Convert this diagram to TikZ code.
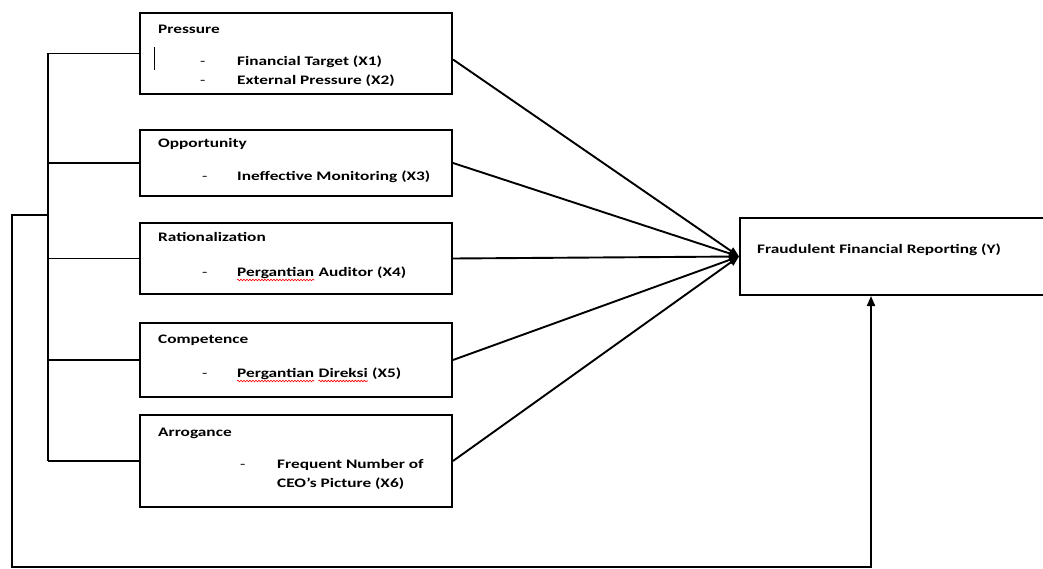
\documentclass[tikz,border=0pt]{standalone}
\usepackage{fontspec}
\setmainfont{Carlito}[FakeStretch=1.33]
\usetikzlibrary{positioning, arrows.meta, decorations.pathmorphing}
\tikzset{garis/.style={line width=1.9pt}}
\tikzset{panah/.style={garis,-{Triangle[length=10pt,width=8pt]}}}
\tikzset{kotak/.style={draw,line width=2pt,anchor=north west,inner sep=0pt,minimum width=312pt}}
\tikzset{judul/.style={anchor=base west,inner sep=0pt}}
\tikzset{salah/.style={red,line width=0.6pt,decorate,decoration={snake,amplitude=0.8pt,segment length=3pt}}}

\begin{document}
\begin{tikzpicture}[
                x = 1pt, y = -1pt,
                every node/.style={font=\fontsize{13}{15}\selectfont\bfseries}
            ]
                \useasboundingbox (0,0) rectangle (1043,569);
                \clip (0,0) rectangle (1043,569);

                % kotak variabel
                \node[kotak, minimum height=81pt] (1) at (139,12) {};
                \node[kotak, minimum height=66pt] (2) at (139,129) {};
                \node[kotak, minimum height=71pt] (3) at (139,222) {};
                \node[kotak, minimum height=74pt] (4) at (139,322) {};
                \node[kotak, minimum height=92pt] (5) at (139,414) {};
                \node[kotak, minimum width=330pt, minimum height=77pt] (6) at (739,217) {};

                % isi kotak
                \node[judul] (t1) at ([shift={(19,22)}]1.north west) {Pressure};
                \node[judul] (d1) at ([shift={(61,54)}]1.north west) {\mdseries -};
                \node[judul] (i1) at ([shift={(98,54)}]1.north west) {Financial Target (X1)};
                \node[judul] (d1b) at ([shift={(61,73)}]1.north west) {\mdseries -};
                \node[judul] (i1b) at ([shift={(98,73)}]1.north west) {External Pressure (X2)};
                \draw[line width=1pt] ([shift={(15,35)}]1.north west) -- ++(0,23);

                \node[judul] (t2) at ([shift={(19,19)}]2.north west) {Opportunity};
                \node[judul] (d2) at ([shift={(63,52)}]2.north west) {\mdseries -};
                \node[judul] (i2) at ([shift={(98,52)}]2.north west) {Ineffective Monitoring (X3)};

                \node[judul] (t3) at ([shift={(19,20)}]3.north west) {Rationalization};
                \node[judul] (d3) at ([shift={(63,54)}]3.north west) {\mdseries -};
                \node[judul] (w3) at ([shift={(98,54)}]3.north west) {Pergantian};
                \node[judul, right=4pt of w3.base east, anchor=base west] (i3) {Auditor (X4)};

                \node[judul] (t4) at ([shift={(19,21)}]4.north west) {Competence};
                \node[judul] (d4) at ([shift={(63,55)}]4.north west) {\mdseries -};
                \node[judul] (w4) at ([shift={(98,55)}]4.north west) {Pergantian};
                \node[judul, right=4pt of w4.base east, anchor=base west] (w4b) {Direksi};
                \node[judul, right=4pt of w4b.base east, anchor=base west] (i4) {(X5)};

                \node[judul] (t5) at ([shift={(19,22)}]5.north west) {Arrogance};
                \node[judul] (d5) at ([shift={(101,54)}]5.north west) {\mdseries -};
                \node[judul] (i5) at ([shift={(138,54)}]5.north west) {Frequent Number of};
                \node[judul] (i5b) at ([shift={(138,73)}]5.north west) {CEO’s Picture (X6)};

                \node[judul] (t6) at ([shift={(18,37)}]6.north west) {Fraudulent Financial Reporting (Y)};

                % garis merah ejaan
                \foreach \w in {w3, w4, w4b}
                    \draw[salah] ([yshift=-4pt]\w.base west) -- ([yshift=-4pt]\w.base east);

                % garis kiri
                \coordinate (k) at (48,0);
                \coordinate (a) at (12,215);
                \coordinate (b) at (871,567);
                \draw[garis] (1.west -| k) -- (5.west -| k);
                \foreach \n in {1,...,5}
                    \draw[garis] (\n.west) -- (\n.west -| k);
                \draw[panah] (a -| k) -- (a) |- (b) -- (b |- 6.south);

                % panah ke Y
                \draw[panah] ([yshift=-6pt]1.east) -- (6.west);
                \foreach \n in {2,...,5}
                    \draw[panah] (\n.east) -- (6.west);
            \end{tikzpicture}
\end{document}
